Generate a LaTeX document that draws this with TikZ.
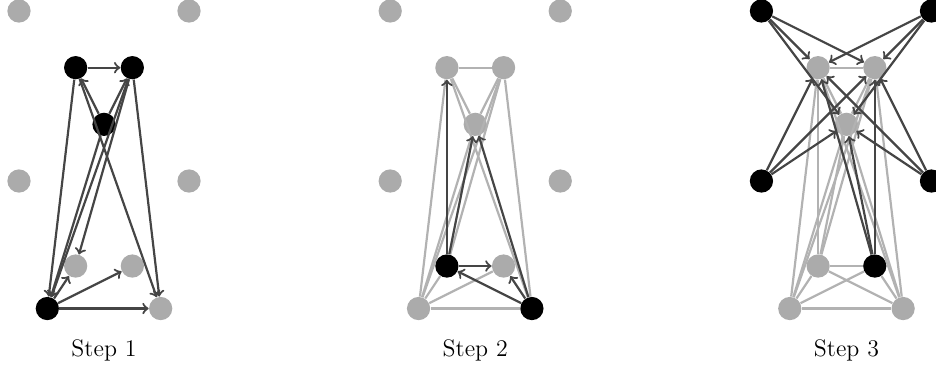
\documentclass[tikz,border=0pt]{standalone}
\usepackage{tikz}
\usetikzlibrary{arrows}

\tikzset{
  dot/.style={circle, fill=gray!66, minimum size=0.41cm, inner sep=0pt},
  hot/.style={dot, fill=black},
  old/.style={gray!60, line width=1.1pt},
  new/.style={black!73, line width=1.1pt, ->}
}

\begin{document}
\begin{tikzpicture}
\useasboundingbox (-0.335,0.194) rectangle (16.18,-6.353);

% step 1
\node [dot] (tl1) at (0,0) {};
\node [dot] (tr1) at (3,0) {};
\node [dot] (ml1) at (0,-3) {};
\node [dot] (mr1) at (3,-3) {};
\node [hot] (a1) at (1,-1) {};
\node [hot] (b1) at (2,-1) {};
\node [hot] (c1) at (1.5,-2) {};
\node [dot] (d1) at (1,-4.5) {};
\node [dot] (e1) at (2,-4.5) {};
\node [hot] (f1) at (0.5,-5.25) {};
\node [dot] (g1) at (2.5,-5.25) {};
\node (lab1) at (1.5,-5.98) {\large Step 1};

% step 2
\begin{scope}[xshift=6.55cm]
\node [dot] (tl2) at (0,0) {};
\node [dot] (tr2) at (3,0) {};
\node [dot] (ml2) at (0,-3) {};
\node [dot] (mr2) at (3,-3) {};
\node [dot] (a2) at (1,-1) {};
\node [dot] (b2) at (2,-1) {};
\node [dot] (c2) at (1.5,-2) {};
\node [hot] (d2) at (1,-4.5) {};
\node [dot] (e2) at (2,-4.5) {};
\node [dot] (f2) at (0.5,-5.25) {};
\node [hot] (g2) at (2.5,-5.25) {};
\node (lab2) at (1.5,-5.98) {\large Step 2};
\end{scope}

% step 3
\begin{scope}[xshift=13.1cm]
\node [hot] (tl3) at (0,0) {};
\node [hot] (tr3) at (3,0) {};
\node [hot] (ml3) at (0,-3) {};
\node [hot] (mr3) at (3,-3) {};
\node [dot] (a3) at (1,-1) {};
\node [dot] (b3) at (2,-1) {};
\node [dot] (c3) at (1.5,-2) {};
\node [dot] (d3) at (1,-4.5) {};
\node [hot] (e3) at (2,-4.5) {};
\node [dot] (f3) at (0.5,-5.25) {};
\node [dot] (g3) at (2.5,-5.25) {};
\node (lab3) at (1.5,-5.98) {\large Step 3};
\end{scope}

% edges of step 1
\foreach \u/\v in {a/b,a/f,a/g,b/d,b/f,b/g,c/a,c/b,c/f,f/d,f/e,f/g}
  \draw [new] (\u1) -- (\v1);
\foreach \u/\v in {a/b,a/f,a/g,b/d,b/f,b/g,c/a,c/b,c/f,f/d,f/e,f/g}
  \draw [old] (\u2) -- (\v2);
\foreach \u/\v in {a/b,a/f,a/g,b/d,b/f,b/g,c/a,c/b,c/f,f/d,f/e,f/g}
  \draw [old] (\u3) -- (\v3);

% edges of step 2
\foreach \u/\v in {d/a,d/c,d/e,g/c,g/d,g/e}
  \draw [new] (\u2) -- (\v2);
\foreach \u/\v in {d/a,d/c,d/e,g/c,g/d,g/e}
  \draw [old] (\u3) -- (\v3);

% edges of step 3
\foreach \u in {tl,tr,ml,mr,e}
  \foreach \v in {a,b,c}
    \draw [new] (\u3) -- (\v3);
\end{tikzpicture}
\end{document}
